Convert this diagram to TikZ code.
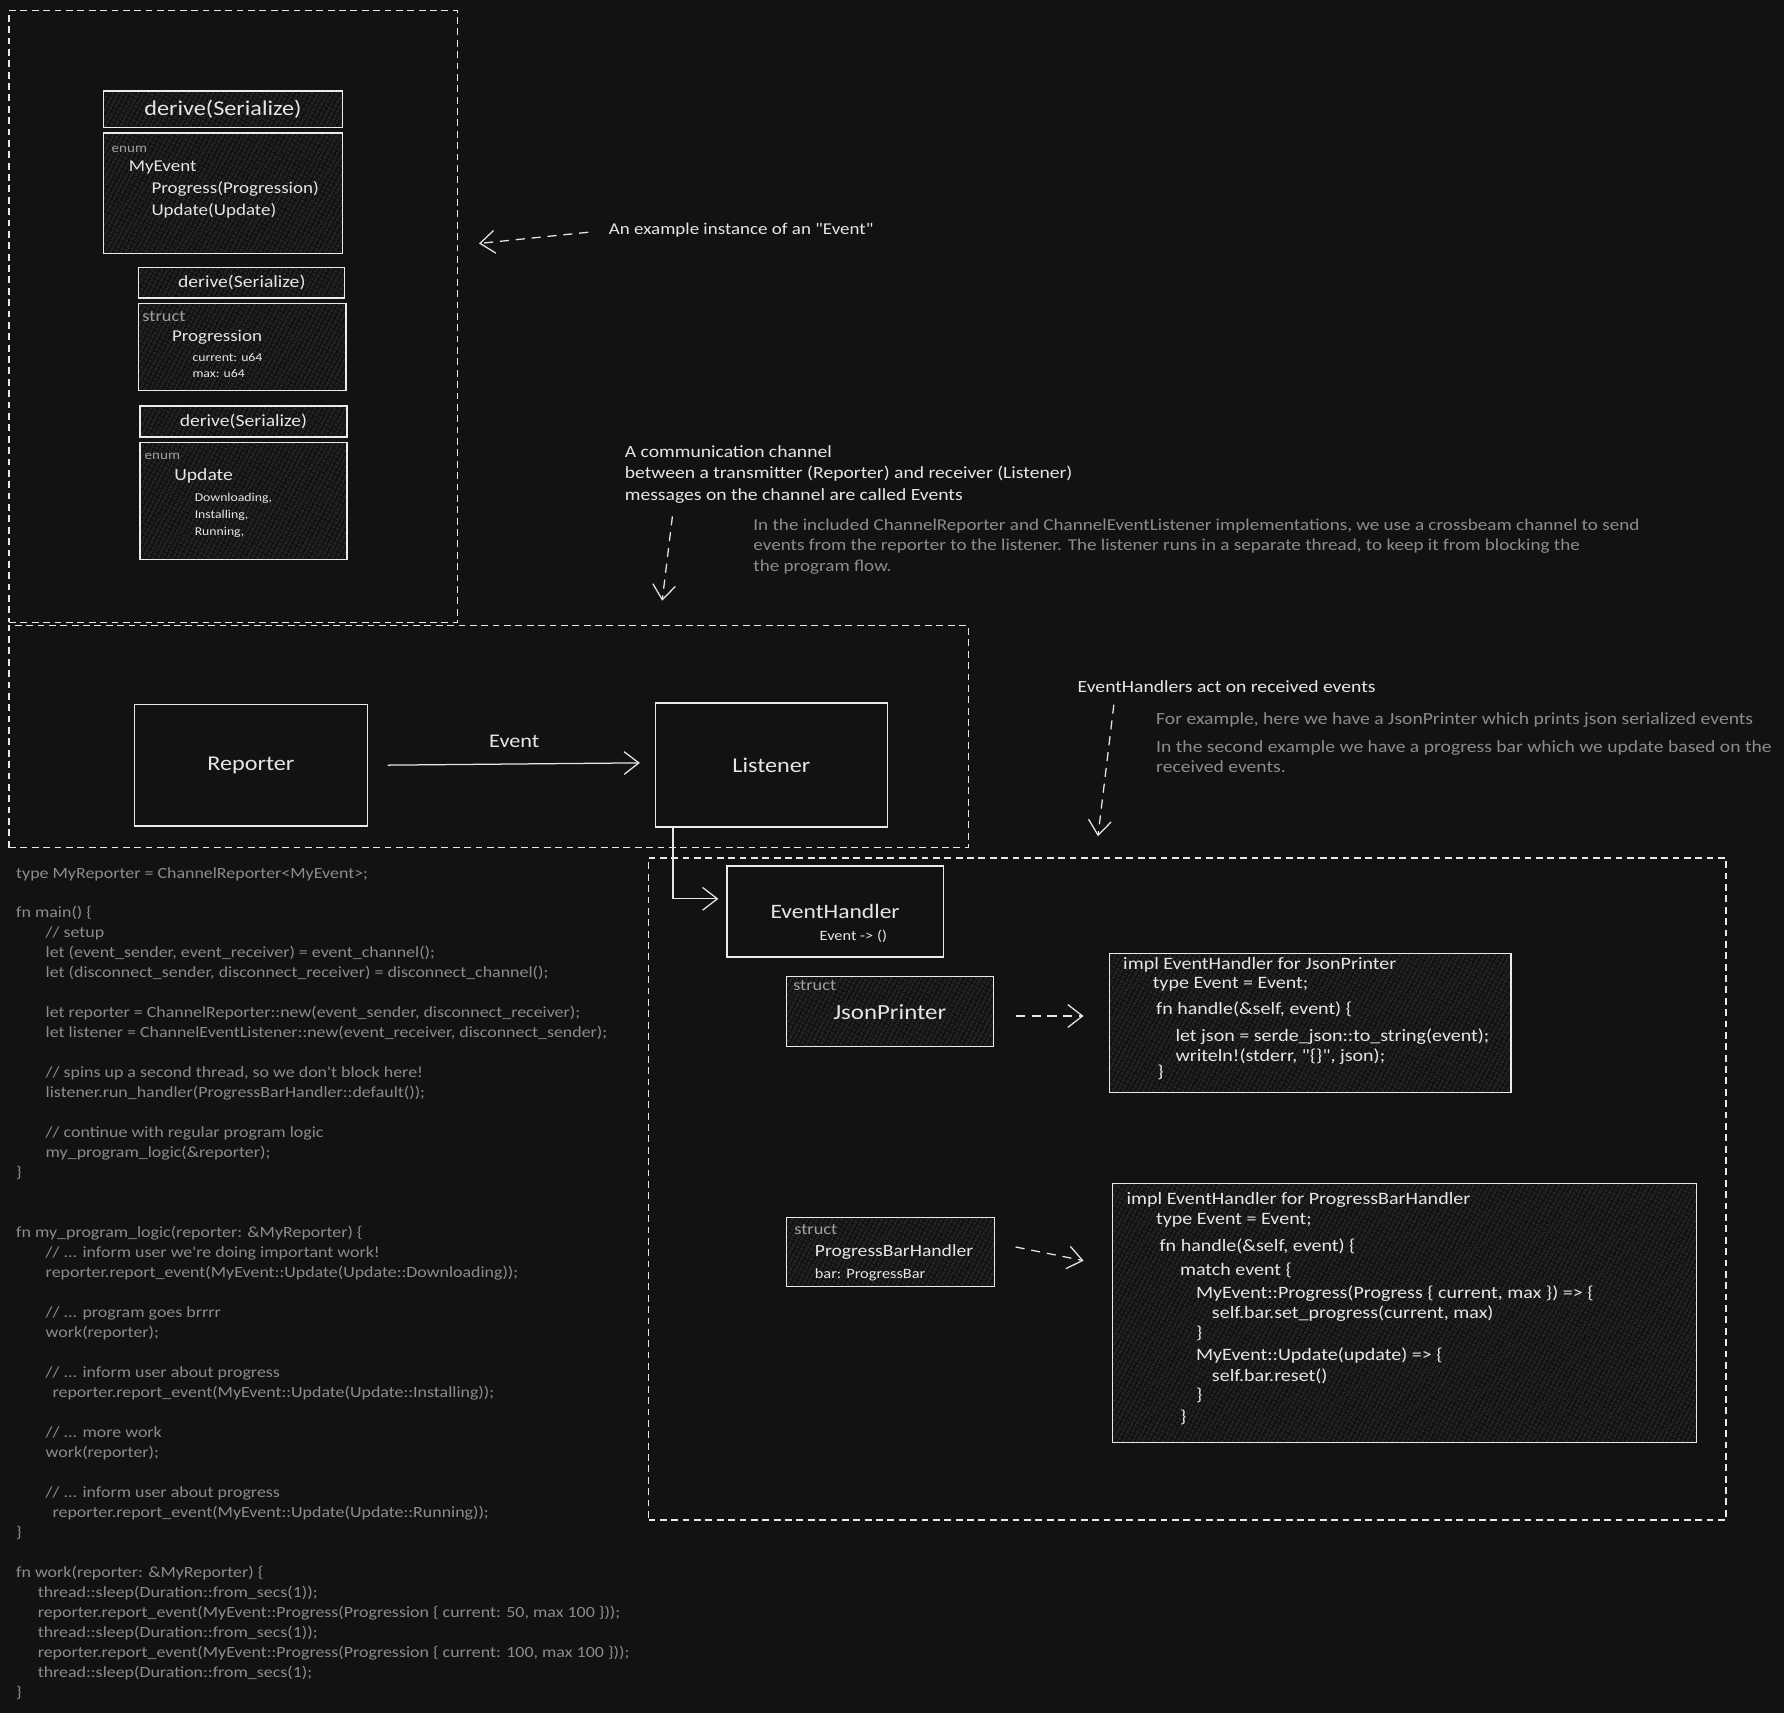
\documentclass[tikz,border=0pt]{standalone}
\usepackage{fontspec}
\setmainfont{Carlito}[FakeStretch=1.15,Ligatures=TeXOff]
\usetikzlibrary{arrows.meta,patterns.meta,fit}
\definecolor{bg}{HTML}{121212}
\definecolor{ink}{HTML}{E6E6E6}
\definecolor{dim}{HTML}{8C8C8C}
\definecolor{lbl}{HTML}{A0A0A0}
\definecolor{hatch}{HTML}{363636}
\newcommand\fsz[1]{\fontsize{#1}{#1}\selectfont}
\begin{document}
\begin{tikzpicture}[x=1pt,y=-1pt,
  dbox/.style={draw=ink!90, dash pattern=on 6pt off 4pt, line width=1.1pt, inner sep=0pt},
  sbox/.style={draw=ink!85, line width=1.2pt, inner sep=0pt},
  hbox/.style={sbox, pattern={Lines[angle=62,distance=4pt,line width=0.7pt]}, pattern color=hatch},
  txt/.style={anchor=base west, inner sep=0pt, text=ink},
  gtxt/.style={txt, text=dim},
  ltxt/.style={txt, text=lbl},
  ctxt/.style={inner sep=0pt, text=ink},
  arr/.style={draw=ink, line width=1.1pt, -{Straight Barb[length=13pt,width=20pt,line width=1.1pt]}},
  darr/.style={arr, dash pattern=on 8pt off 6pt}]
\fill[bg] (0,0) rectangle (1568,1506);
\useasboundingbox (0,0) rectangle (1568,1506);

% ---------- group 1 ----------
\node[dbox, fit={(8,9) (402,547)}] (g1) {};
\node[hbox, minimum width=210pt, minimum height=32pt, text=ink] (dA) at (196,96) {\fsz{18.5}derive(Serialize)};
\node[hbox, fit={(91,117) (301,223)}] (eA) {};
\node[ltxt, font=\fsz{11.5}] (eA1) at (98,134) {enum};
\node[txt, font=\fsz{14.5}] (eA2) at (113,151) {MyEvent};
\node[txt, font=\fsz{14.5}] (eA3) at (133,170) {Progress(Progression)};
\node[txt, font=\fsz{14.5}] (eA4) at (133,189) {Update(Update)};

\node[hbox, minimum width=181pt, minimum height=27pt, text=ink] (dB) at (212.5,248.5) {\fsz{15}derive(Serialize)};
\node[hbox, fit={(122,267) (304,343)}] (sB) {};
\node[ltxt, font=\fsz{14}] (sB1) at (125,283) {struct};
\node[txt, font=\fsz{14.5}] (sB2) at (151,300) {Progression};
\node[txt, font=\fsz{10.5}] (sB3) at (169,318) {current: u64};
\node[txt, font=\fsz{10.5}] (sB4) at (169,332) {max: u64};

\node[hbox, minimum width=182pt, minimum height=27pt, text=ink] (dC) at (214,370.5) {\fsz{15}derive(Serialize)};
\node[hbox, fit={(123,389) (305,492)}] (eC) {};
\node[ltxt, font=\fsz{11.5}] (eC1) at (127,404) {enum};
\node[txt, font=\fsz{15}] (eC2) at (153,422) {Update};
\node[txt, font=\fsz{10.5}] (eC3) at (171,441) {Downloading,};
\node[txt, font=\fsz{10.5}] (eC4) at (171,456) {Installing,};
\node[txt, font=\fsz{10.5}] (eC5) at (171,471) {Running,};

\node[txt, font=\fsz{14.5}] (ex) at (535,206) {An example instance of an "Event"};
\coordinate (exend) at (421,214);
\draw[darr] ([xshift=-18pt,yshift=-2pt]ex.west) -- (exend);

% ---------- channel notes ----------
\node[txt, font=\fsz{15}] (cc1) at (549,402) {A communication channel};
\node[txt, font=\fsz{15}] (cc2) at (549,421) {between a transmitter (Reporter) and receiver (Listener)};
\node[txt, font=\fsz{15}] (cc3) at (549,440) {messages on the channel are called Events};
\node[gtxt, font=\fsz{14.6}] (cp1) at (662,466) {In the included ChannelReporter and ChannelEventListener implementations, we use a crossbeam channel to send};
\node[gtxt, font=\fsz{14.6}] (cp2) at (662,484) {events from the reporter to the listener. The listener runs in a separate thread, to keep it from blocking the};
\node[gtxt, font=\fsz{14.6}] (cp3) at (662,502) {the program flow.};
\coordinate (ccend) at (582,528);
\draw[darr] ([xshift=42pt,yshift=-11pt]cc3.south west) -- (ccend);

% ---------- group 2 ----------
\node[dbox, fit={(8,550) (851,745)}] (g2) {};
\node[sbox, minimum width=205pt, minimum height=107pt, text=ink] (rep) at (220.5,672.5) {\fsz{18.5}Reporter};
\node[sbox, minimum width=204pt, minimum height=109pt, text=ink] (lis) at (678,672.5) {\fsz{18.5}Listener};
\draw[arr] ([xshift=17pt]rep.east) -- ([xshift=-13pt,yshift=2pt]lis.west);
\node[ctxt, font=\fsz{17}] (evl) at (452,652) {Event};

% ---------- handler notes ----------
\node[txt, font=\fsz{15}] (hn1) at (947,609) {EventHandlers act on received events};
\node[gtxt, font=\fsz{15}] (hp1) at (1016,637) {For example, here we have a JsonPrinter which prints json serialized events};
\node[gtxt, font=\fsz{15}] (hp2) at (1016,661) {In the second example we have a progress bar which we update based on the};
\node[gtxt, font=\fsz{15}] (hp3) at (1016,679) {received events.};
\coordinate (hnend) at (965,735);
\draw[darr] ([xshift=32pt,yshift=-10pt]hn1.south west) -- (hnend);

% ---------- group 3 ----------
\node[dbox, fit={(570,754) (1517,1336)}] (g3) {};
\node[sbox, minimum width=190pt, minimum height=80pt] (eh) at (734,801) {};
\node[ctxt, font=\fsz{18}] (eh1) at (734,801) {EventHandler};
\node[ctxt, font=\fsz{12.5}] (eh2) at (750,823) {Event -> ()};
\draw[arr] ([xshift=16pt]lis.south west) |- ([xshift=-7pt,yshift=11pt]eh.west);

\node[hbox, fit={(691,858) (873,920)}] (jps) {};
\node[ltxt, font=\fsz{14}] (jps1) at (697,871) {struct};
\node[ctxt, font=\fsz{19}] (jps2) at (782,890) {JsonPrinter};
\node[hbox, fit={(975,838) (1328,960)}] (jpi) {};
\draw[darr] ([xshift=19pt,yshift=-4pt]jps.east) -- ([xshift=-22pt,yshift=6pt]jpi.west);
\node[txt, font=\fsz{15.3}] (jpi1) at (987,852) {impl EventHandler for JsonPrinter};
\node[txt, font=\fsz{15.3}] (jpi2) at (1013,869) {type Event = Event;};
\node[txt, font=\fsz{15.3}] (jpi3) at (1016,892) {fn handle(\&self, event) \{};
\node[txt, font=\fsz{15.3}] (jpi4) at (1033,915) {let json = serde\_json::to\_string(event);};
\node[txt, font=\fsz{15.3}] (jpi5) at (1033,933) {writeln!(stderr, "\{\}", json);};
\node[txt, font=\fsz{15.3}] (jpi6) at (1017,947) {\}};

\node[hbox, fit={(691,1070) (874,1131)}] (pbs) {};
\node[ltxt, font=\fsz{14}] (pbs1) at (698,1085) {struct};
\node[txt, font=\fsz{15}] (pbs2) at (716,1104) {ProgressBarHandler};
\node[txt, font=\fsz{12.5}] (pbs3) at (716,1124) {bar: ProgressBar};
\node[hbox, fit={(978,1040) (1491,1268)}] (pbi) {};
\draw[darr] ([xshift=18pt,yshift=4.5pt]pbs.east) -- ([xshift=-25pt,yshift=46pt]pbi.west);
\node[txt, font=\fsz{15.3}] (pbi1) at (990,1059) {impl EventHandler for ProgressBarHandler};
\node[txt, font=\fsz{15.3}] (pbi2) at (1016,1076) {type Event = Event;};
\node[txt, font=\fsz{15.3}] (pbi3) at (1019,1100) {fn handle(\&self, event) \{};
\node[txt, font=\fsz{15.3}] (pbi4) at (1037,1121) {match event \{};
\node[txt, font=\fsz{15.3}] (pbi5) at (1051,1141) {MyEvent::Progress(Progress \{ current, max \}) => \{};
\node[txt, font=\fsz{15.3}] (pbi6) at (1065,1159) {self.bar.set\_progress(current, max)};
\node[txt, font=\fsz{15.3}] (pbi7) at (1051,1176) {\}};
\node[txt, font=\fsz{15.3}] (pbi8) at (1051,1196) {MyEvent::Update(update) => \{};
\node[txt, font=\fsz{15.3}] (pbi9) at (1065,1214) {self.bar.reset()};
\node[txt, font=\fsz{15.3}] (pbi10) at (1051,1231) {\}};
\node[txt, font=\fsz{15.3}] (pbi11) at (1037,1250) {\}};

% ---------- left code ----------
\node[anchor=north west, inner sep=0pt, text=dim, align=left, font=\fontsize{13.7}{17.56}\selectfont] (code) at (14,762) {%
type MyReporter = ChannelReporter<MyEvent>;\\[17.56pt]
fn main() \{\\
\hspace*{26pt}// setup\\
\hspace*{26pt}let (event\_sender, event\_receiver) = event\_channel();\\
\hspace*{26pt}let (disconnect\_sender, disconnect\_receiver) = disconnect\_channel();\\[17.56pt]
\hspace*{26pt}let reporter = ChannelReporter::new(event\_sender, disconnect\_receiver);\\
\hspace*{26pt}let listener = ChannelEventListener::new(event\_receiver, disconnect\_sender);\\[17.56pt]
\hspace*{26pt}// spins up a second thread, so we don't block here!\\
\hspace*{26pt}listener.run\_handler(ProgressBarHandler::default());\\[17.56pt]
\hspace*{26pt}// continue with regular program logic\\
\hspace*{26pt}my\_program\_logic(\&reporter);\\
\}\\[35.12pt]
fn my\_program\_logic(reporter: \&MyReporter) \{\\
\hspace*{26pt}// ... inform user we're doing important work!\\
\hspace*{26pt}reporter.report\_event(MyEvent::Update(Update::Downloading));\\[17.56pt]
\hspace*{26pt}// ... program goes brrrr\\
\hspace*{26pt}work(reporter);\\[17.56pt]
\hspace*{26pt}// ... inform user about progress\\
\hspace*{32pt}reporter.report\_event(MyEvent::Update(Update::Installing));\\[17.56pt]
\hspace*{26pt}// ... more work\\
\hspace*{26pt}work(reporter);\\[17.56pt]
\hspace*{26pt}// ... inform user about progress\\
\hspace*{32pt}reporter.report\_event(MyEvent::Update(Update::Running));\\
\}\\[17.56pt]
fn work(reporter: \&MyReporter) \{\\
\hspace*{19pt}thread::sleep(Duration::from\_secs(1));\\
\hspace*{19pt}reporter.report\_event(MyEvent::Progress(Progression \{ current: 50, max 100 \}));\\
\hspace*{19pt}thread::sleep(Duration::from\_secs(1));\\
\hspace*{19pt}reporter.report\_event(MyEvent::Progress(Progression \{ current: 100, max 100 \}));\\
\hspace*{19pt}thread::sleep(Duration::from\_secs(1);\\
\}};
\end{tikzpicture}
\end{document}
